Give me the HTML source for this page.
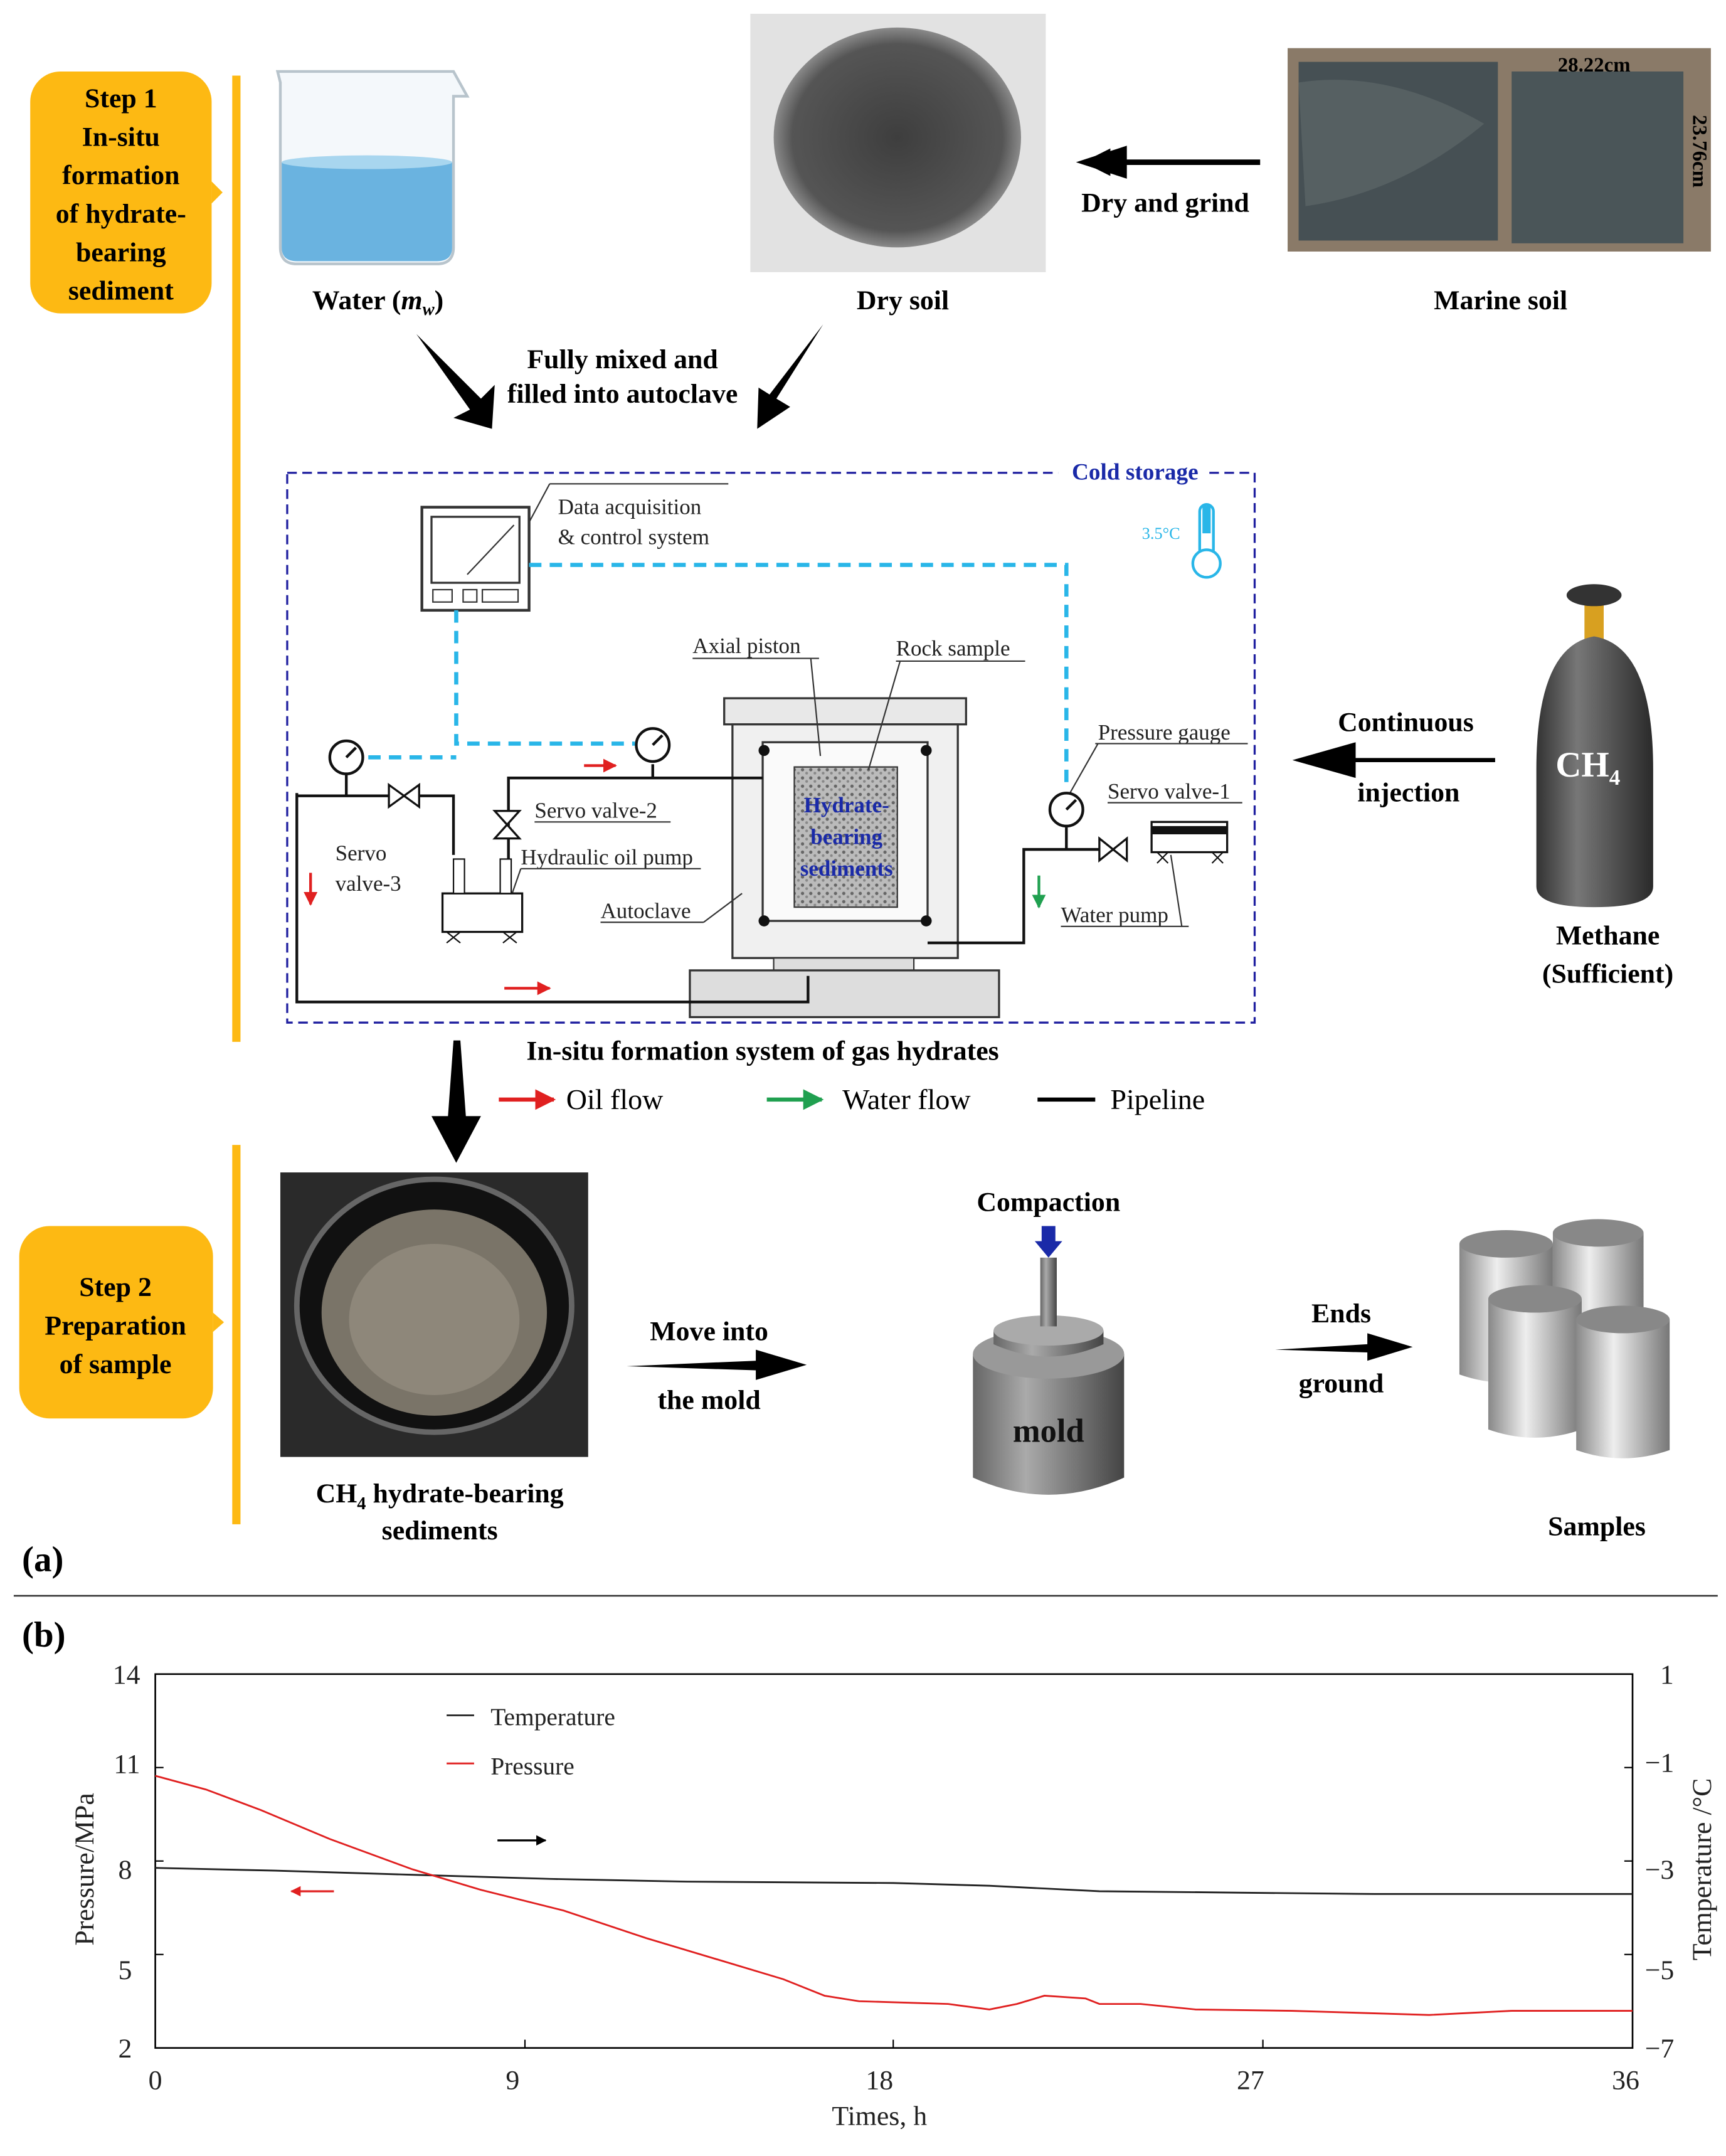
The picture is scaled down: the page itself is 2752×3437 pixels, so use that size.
<!DOCTYPE html>
<html><head><meta charset="utf-8">
<style>html,body{margin:0;padding:0;background:#fff}svg{display:block}</style></head>
<body>
<svg xmlns="http://www.w3.org/2000/svg" width="2752" height="3437" viewBox="0 0 1256 1568.6" font-family="Liberation Serif, serif">
<defs>
<marker id="ab" viewBox="0 0 10 10" refX="9" refY="5" markerWidth="5" markerHeight="5" orient="auto"><path d="M0,0L10,5L0,10z" fill="#000"/></marker>
<marker id="ar" viewBox="0 0 10 10" refX="9" refY="5" markerWidth="5" markerHeight="5" orient="auto"><path d="M0,0L10,5L0,10z" fill="#e02020"/></marker>
<marker id="ag" viewBox="0 0 10 10" refX="9" refY="5" markerWidth="5" markerHeight="5" orient="auto"><path d="M0,0L10,5L0,10z" fill="#20a050"/></marker>
<pattern id="hatch" width="6" height="6" patternUnits="userSpaceOnUse"><rect width="6" height="6" fill="#bbb"/><circle cx="2" cy="2" r="1.2" fill="#666"/><circle cx="5" cy="4.5" r="1" fill="#888"/></pattern>
<radialGradient id="soil" cx="50%" cy="50%" r="50%"><stop offset="0" stop-color="#3e3e3e"/><stop offset="0.85" stop-color="#555"/><stop offset="1" stop-color="#8a8a8a"/></radialGradient>
<linearGradient id="cyl" x1="0" x2="1"><stop offset="0" stop-color="#666"/><stop offset="0.35" stop-color="#aaa"/><stop offset="1" stop-color="#444"/></linearGradient>
<linearGradient id="cyl2" x1="0" x2="1"><stop offset="0" stop-color="#888"/><stop offset="0.4" stop-color="#eee"/><stop offset="1" stop-color="#777"/></linearGradient>
<linearGradient id="gas" x1="0" x2="1"><stop offset="0" stop-color="#333"/><stop offset="0.35" stop-color="#777"/><stop offset="1" stop-color="#2a2a2a"/></linearGradient>
</defs>

<rect x="22" y="52" width="132" height="176" rx="22" fill="#FDB913"/>
<path d="M154,132 L162,140 L154,148z" fill="#FDB913"/>
<rect x="169" y="55" width="6" height="703" fill="#FDB913"/>
<g font-weight="bold" font-size="20" text-anchor="middle">
<text x="88" y="78">Step 1</text><text x="88" y="106">In-situ</text><text x="88" y="134">formation</text>
<text x="88" y="162">of hydrate-</text><text x="88" y="190">bearing</text><text x="88" y="218">sediment</text>
</g>

<path d="M202,52 L330,52 L340,70 L330,70 L330,180 Q330,192 318,192 L216,192 Q204,192 204,180 L204,60z" fill="#f4f8fb" stroke="#b8c4cc" stroke-width="2"/>
<path d="M205,118 Q268,112 329,118 L329,180 Q329,190 318,190 L216,190 Q205,190 205,180z" fill="#6ab3e0"/>
<ellipse cx="267" cy="118" rx="62" ry="5" fill="#a8d6ef"/>

<rect x="546" y="10" width="215" height="188" fill="#e2e2e2"/>
<ellipse cx="653" cy="100" rx="90" ry="80" fill="url(#soil)"/>

<rect x="937" y="35" width="308" height="148" fill="#8a7a68"/>
<rect x="945" y="45" width="145" height="130" fill="#465054"/>
<rect x="1100" y="52" width="125" height="125" fill="#4a5558"/>
<path d="M945,60 Q1010,50 1080,90 Q1020,140 950,150z" fill="#5d6668" opacity="0.7"/>
<text x="1160" y="52" font-size="15" font-weight="bold" text-anchor="middle">28.22cm</text>
<text x="1232" y="110" font-size="15" font-weight="bold" transform="rotate(90 1232 110)" text-anchor="middle">23.76cm</text>

<line x1="917" y1="118" x2="790" y2="118" stroke="#000" stroke-width="4" marker-end="url(#ab)"/>
<path d="M783,118 L820,106 L820,130z" fill="#000"/>
<g font-weight="bold" font-size="20" text-anchor="middle">
<text x="848" y="154">Dry and grind</text>
<text x="275" y="225">Water (<tspan font-style="italic">m</tspan><tspan font-size="13" font-style="italic" dy="4">w</tspan><tspan dy="-4">)</tspan></text>
<text x="657" y="225">Dry soil</text>
<text x="1092" y="225">Marine soil</text>
<text x="453" y="268">Fully mixed and</text>
<text x="453" y="293">filled into autoclave</text>
</g>
<path d="M303,243 L350,290 L360,280 L358,312 L330,304 L342,298z" fill="#000"/>
<path d="M599,236 L565,290 L575,296 L551,312 L552,282 L560,287z" fill="#000"/>

<rect x="209" y="344" width="704" height="400" fill="none" stroke="#2020a0" stroke-width="1.5" stroke-dasharray="7,4"/>
<rect x="770" y="333" width="110" height="20" fill="#fff"/>
<text x="826" y="349" font-size="17" font-weight="bold" fill="#1a2aa8" text-anchor="middle">Cold storage</text>
<rect x="873" y="367" width="10" height="38" rx="5" fill="#fff" stroke="#29b6e8" stroke-width="2"/>
<rect x="875" y="368" width="6" height="20" fill="#29b6e8"/>
<circle cx="878" cy="410" r="10" fill="#fff" stroke="#29b6e8" stroke-width="2"/>
<text x="831" y="392" font-size="12" fill="#29b6e8">3.5°C</text>

<rect x="307" y="369" width="78" height="75" fill="#fff" stroke="#333" stroke-width="2"/>
<rect x="314" y="376" width="64" height="48" fill="#fff" stroke="#333" stroke-width="1.5"/>
<line x1="340" y1="418" x2="374" y2="382" stroke="#333"/>
<rect x="315" y="429" width="14" height="9" fill="none" stroke="#333"/>
<rect x="337" y="429" width="10" height="9" fill="none" stroke="#333"/>
<rect x="351" y="429" width="26" height="9" fill="none" stroke="#333"/>
<g font-size="16" fill="#222">
<text x="406" y="374">Data acquisition</text><text x="406" y="396">&amp; control system</text>
</g>
<line x1="385" y1="380" x2="400" y2="352" stroke="#333"/><line x1="400" y1="352" x2="530" y2="352" stroke="#333"/>

<g stroke="#29b6e8" stroke-width="3" stroke-dasharray="9,6" fill="none">
<path d="M385,411 L776,411 L776,575"/>
<path d="M332,444 L332,541 L462,541"/>
<path d="M268,551 L332,551"/>
</g>

<rect x="527" y="508" width="176" height="19" fill="#e8e8e8" stroke="#333" stroke-width="1.5"/>
<rect x="533" y="527" width="164" height="170" fill="#f0f0f0" stroke="#333" stroke-width="1.5"/>
<rect x="555" y="540" width="120" height="130" fill="#fafafa" stroke="#333" stroke-width="1.5"/>
<rect x="578" y="558" width="75" height="102" fill="url(#hatch)" stroke="#333"/>
<g font-size="16" font-weight="bold" fill="#1a2aa8" text-anchor="middle">
<text x="616" y="591">Hydrate-</text><text x="616" y="614">bearing</text><text x="616" y="637">sediments</text></g>
<circle cx="556" cy="546" r="4" fill="#111"/><circle cx="674" cy="546" r="4" fill="#111"/>
<circle cx="556" cy="670" r="4" fill="#111"/><circle cx="674" cy="670" r="4" fill="#111"/>
<rect x="563" y="697" width="102" height="9" fill="#ddd" stroke="#333"/>
<rect x="502" y="706" width="225" height="34" fill="#ddd" stroke="#333" stroke-width="1.5"/>
<g font-size="16" fill="#222">
<text x="504" y="475">Axial piston</text><text x="652" y="477">Rock sample</text>
<text x="437" y="668">Autoclave</text><text x="799" y="538">Pressure gauge</text>
<text x="806" y="581">Servo valve-1</text><text x="772" y="671">Water pump</text>
<text x="389" y="595">Servo valve-2</text><text x="379" y="629">Hydraulic  oil pump</text>
<text x="244" y="626">Servo</text><text x="244" y="648">valve-3</text>
</g>
<g stroke="#333" fill="none">
<line x1="504" y1="479" x2="596" y2="479"/><line x1="590" y1="479" x2="597" y2="550"/>
<line x1="652" y1="481" x2="746" y2="481"/><line x1="655" y1="481" x2="632" y2="560"/>
<line x1="437" y1="671" x2="512" y2="671"/><line x1="512" y1="671" x2="540" y2="650"/>
<line x1="797" y1="541" x2="908" y2="541"/><line x1="799" y1="541" x2="778" y2="578"/>
<line x1="806" y1="584" x2="904" y2="584"/>
<line x1="772" y1="674" x2="865" y2="674"/><line x1="860" y1="674" x2="852" y2="622"/>
<line x1="389" y1="598" x2="488" y2="598"/><line x1="379" y1="632" x2="510" y2="632"/>
<line x1="379" y1="632" x2="372" y2="652"/>
</g>
<g stroke="#111" stroke-width="2" fill="none">
<path d="M555,566 L370,566 L370,625"/>
<path d="M475,556 L475,566"/>
<path d="M216,577 L216,729 L588,729 L588,710"/>
<path d="M216,579 L330,579 L330,622"/>
<path d="M675,686 L745,686 L745,618 L800,618"/>
<path d="M776,602 L776,618"/>
<path d="M252,563 L252,579"/>
</g>
<circle cx="252" cy="551" r="12" fill="#fff" stroke="#111" stroke-width="2"/><line x1="252" y1="551" x2="259" y2="544" stroke="#111" stroke-width="2"/>
<circle cx="475" cy="542" r="12" fill="#fff" stroke="#111" stroke-width="2"/><line x1="475" y1="542" x2="482" y2="535" stroke="#111" stroke-width="2"/>
<circle cx="776" cy="589" r="12" fill="#fff" stroke="#111" stroke-width="2"/><line x1="776" y1="589" x2="783" y2="582" stroke="#111" stroke-width="2"/>
<path d="M283,571 L305,587 L305,571 L283,587z" fill="#fff" stroke="#111" stroke-width="1.5"/>
<path d="M360,590 L378,610 L360,610 L378,590z" fill="#fff" stroke="#111" stroke-width="1.5"/>
<path d="M800,610 L820,626 L820,610 L800,626z" fill="#fff" stroke="#111" stroke-width="1.5"/>
<rect x="322" y="650" width="58" height="28" fill="#fff" stroke="#111" stroke-width="1.5"/>
<rect x="330" y="625" width="8" height="25" fill="#fff" stroke="#111"/><rect x="364" y="625" width="8" height="25" fill="#fff" stroke="#111"/>
<path d="M325,678 L335,686 M335,678 L325,686 M366,678 L376,686 M376,678 L366,686" stroke="#111"/>
<rect x="838" y="598" width="55" height="22" fill="#fff" stroke="#111" stroke-width="1.5"/>
<rect x="838" y="601" width="55" height="6" fill="#111"/>
<path d="M842,620 L850,628 M850,620 L842,628 M882,620 L890,628 M890,620 L882,628" stroke="#111"/>
<line x1="425" y1="557" x2="448" y2="557" stroke="#e02020" stroke-width="2" marker-end="url(#ar)"/>
<line x1="367" y1="719" x2="400" y2="719" stroke="#e02020" stroke-width="2" marker-end="url(#ar)"/>
<line x1="226" y1="635" x2="226" y2="658" stroke="#e02020" stroke-width="2" marker-end="url(#ar)"/>
<line x1="756" y1="637" x2="756" y2="660" stroke="#20a050" stroke-width="2" marker-end="url(#ag)"/>

<rect x="1153" y="440" width="14" height="25" fill="#d8a020"/>
<ellipse cx="1160" cy="433" rx="20" ry="8" fill="#333"/>
<path d="M1118,560 Q1118,470 1160,463 Q1203,470 1203,560 L1203,645 Q1203,660 1160,660 Q1118,660 1118,645z" fill="url(#gas)"/>
<text x="1132" y="565" font-size="26" font-weight="bold" fill="#fff">CH<tspan font-size="16" dy="6">4</tspan></text>
<path d="M1088,553 L985,553 L985,542 L946,553 L985,564 L985,553" fill="#000" stroke="#000" stroke-width="3"/>
<g font-weight="bold" font-size="20" text-anchor="middle">
<text x="1023" y="532">Continuous</text><text x="1025" y="583">injection</text>
<text x="1170" y="687">Methane</text><text x="1170" y="715">(Sufficient)</text>
<text x="555" y="771">In-situ formation system of gas hydrates</text>
</g>
<g font-size="21">
<line x1="363" y1="800" x2="403" y2="800" stroke="#e02020" stroke-width="3" marker-end="url(#ar)"/><text x="412" y="807">Oil flow</text>
<line x1="558" y1="800" x2="598" y2="800" stroke="#20a050" stroke-width="3" marker-end="url(#ag)"/><text x="613" y="807">Water flow</text>
<line x1="755" y1="800" x2="797" y2="800" stroke="#000" stroke-width="3"/><text x="808" y="807">Pipeline</text>
</g>
<path d="M330,757 L335,757 L339,812 L350,812 L332,846 L314,812 L326,812z" fill="#000"/>

<rect x="169" y="833" width="6" height="276" fill="#FDB913"/>
<rect x="14" y="892" width="141" height="140" rx="22" fill="#FDB913"/>
<path d="M155,955 L163,962 L155,969z" fill="#FDB913"/>
<g font-weight="bold" font-size="20" text-anchor="middle">
<text x="84" y="943">Step 2</text><text x="84" y="971">Preparation</text><text x="84" y="999">of sample</text></g>
<rect x="204" y="853" width="224" height="207" fill="#2a2a2a"/>
<ellipse cx="316" cy="950" rx="100" ry="92" fill="#111" stroke="#666" stroke-width="4"/>
<ellipse cx="316" cy="955" rx="82" ry="75" fill="#7a7468"/>
<ellipse cx="316" cy="960" rx="62" ry="55" fill="#8e877a"/>
<g font-weight="bold" font-size="20" text-anchor="middle">
<text x="320" y="1093">CH<tspan font-size="13" dy="5">4</tspan><tspan dy="-5"> hydrate-bearing</tspan></text>
<text x="320" y="1120">sediments</text>
<text x="516" y="975">Move into</text><text x="516" y="1025">the mold</text>
<text x="763" y="881">Compaction</text>
<text x="976" y="962">Ends</text><text x="976" y="1013">ground</text>
<text x="1162" y="1117">Samples</text>
</g>
<path d="M456,994 L550,990 L550,982 L587,993 L550,1004 L550,997z" fill="#000"/>
<path d="M928,982 L995,978 L995,970 L1028,980 L995,990 L995,984z" fill="#000"/>
<path d="M708,985 L708,1075 Q763,1100 818,1075 L818,985z" fill="url(#cyl)"/>
<ellipse cx="763" cy="985" rx="55" ry="18" fill="#999"/>
<path d="M723,978 L723,968 L803,968 L803,978 Q763,996 723,978z" fill="url(#cyl)"/>
<ellipse cx="763" cy="968" rx="40" ry="11" fill="#aaa"/>
<rect x="757" y="915" width="12" height="50" fill="url(#cyl)"/>
<path d="M758,892 L768,892 L768,903 L773,903 L763,915 L753,903 L758,903z" fill="#1a2aa8"/>
<text x="763" y="1049" font-size="24" font-weight="bold" text-anchor="middle" fill="#111">mold</text>
<g>
<path d="M1062,905 L1062,1000 Q1096,1012 1130,1000 L1130,905z" fill="url(#cyl2)"/><ellipse cx="1096" cy="905" rx="34" ry="10" fill="#888"/>
<path d="M1130,897 L1130,990 Q1163,1002 1196,990 L1196,897z" fill="url(#cyl2)"/><ellipse cx="1163" cy="897" rx="33" ry="10" fill="#888"/>
<path d="M1083,945 L1083,1040 Q1117,1052 1151,1040 L1151,945z" fill="url(#cyl2)"/><ellipse cx="1117" cy="945" rx="34" ry="10" fill="#888"/>
<path d="M1147,960 L1147,1055 Q1181,1067 1215,1055 L1215,960z" fill="url(#cyl2)"/><ellipse cx="1181" cy="960" rx="34" ry="10" fill="#888"/>
</g>

<text x="16" y="1143" font-size="26" font-weight="bold">(a)</text>
<line x1="10" y1="1161" x2="1250" y2="1161" stroke="#333" stroke-width="1.2"/>
<text x="16" y="1198" font-size="26" font-weight="bold">(b)</text>

<rect x="113" y="1218" width="1075" height="272" fill="none" stroke="#000" stroke-width="1.2"/>
<g stroke="#000">
<line x1="113" y1="1286" x2="119" y2="1286"/><line x1="113" y1="1354" x2="119" y2="1354"/><line x1="113" y1="1422" x2="119" y2="1422"/>
<line x1="1182" y1="1286" x2="1188" y2="1286"/><line x1="1182" y1="1354" x2="1188" y2="1354"/><line x1="1182" y1="1422" x2="1188" y2="1422"/>
<line x1="382" y1="1484" x2="382" y2="1490"/><line x1="650" y1="1484" x2="650" y2="1490"/><line x1="919" y1="1484" x2="919" y2="1490"/>
</g>
<g font-size="20" fill="#222">
<g text-anchor="end"><text x="102" y="1225">14</text><text x="102" y="1290">11</text><text x="96" y="1367">8</text><text x="96" y="1440">5</text><text x="96" y="1497">2</text></g>
<text x="1208" y="1225">1</text><text x="1197" y="1289">−1</text><text x="1197" y="1367">−3</text><text x="1197" y="1440">−5</text><text x="1197" y="1497">−7</text>
<g text-anchor="middle"><text x="113" y="1520">0</text><text x="373" y="1520">9</text><text x="640" y="1520">18</text><text x="910" y="1520">27</text><text x="1183" y="1520">36</text>
<text x="640" y="1546">Times, h</text></g>
<text x="68" y="1360" transform="rotate(-90 68 1360)" text-anchor="middle">Pressure/MPa</text>
<text x="1245" y="1360" transform="rotate(-90 1245 1360)" text-anchor="middle">Temperature /°C</text>
<text x="357" y="1255" font-size="18">Temperature</text><text x="357" y="1291" font-size="18">Pressure</text>
</g>
<line x1="325" y1="1248" x2="345" y2="1248" stroke="#222" stroke-width="1.3"/>
<line x1="325" y1="1283" x2="345" y2="1283" stroke="#e02020" stroke-width="1.3"/>
<line x1="362" y1="1339" x2="397" y2="1339" stroke="#000" stroke-width="1.5" marker-end="url(#ab)"/>
<line x1="243" y1="1376" x2="212" y2="1376" stroke="#e02020" stroke-width="1.5" marker-end="url(#ar)"/>
<polyline fill="none" stroke="#222" stroke-width="1.3" points="113,1359 200,1361 300,1364 400,1367 500,1369 650,1370 720,1372 800,1376 900,1377 1000,1378 1188,1378"/>
<polyline fill="none" stroke="#e02020" stroke-width="1.3" points="113,1292 150,1302 190,1317 240,1338 300,1360 350,1375 410,1390 470,1410 530,1428 570,1440 600,1452 625,1456 690,1458 720,1462 740,1458 760,1452 790,1454 800,1458 830,1458 870,1462 940,1463 1040,1466 1100,1463 1188,1463"/>
</svg>
</body></html>
